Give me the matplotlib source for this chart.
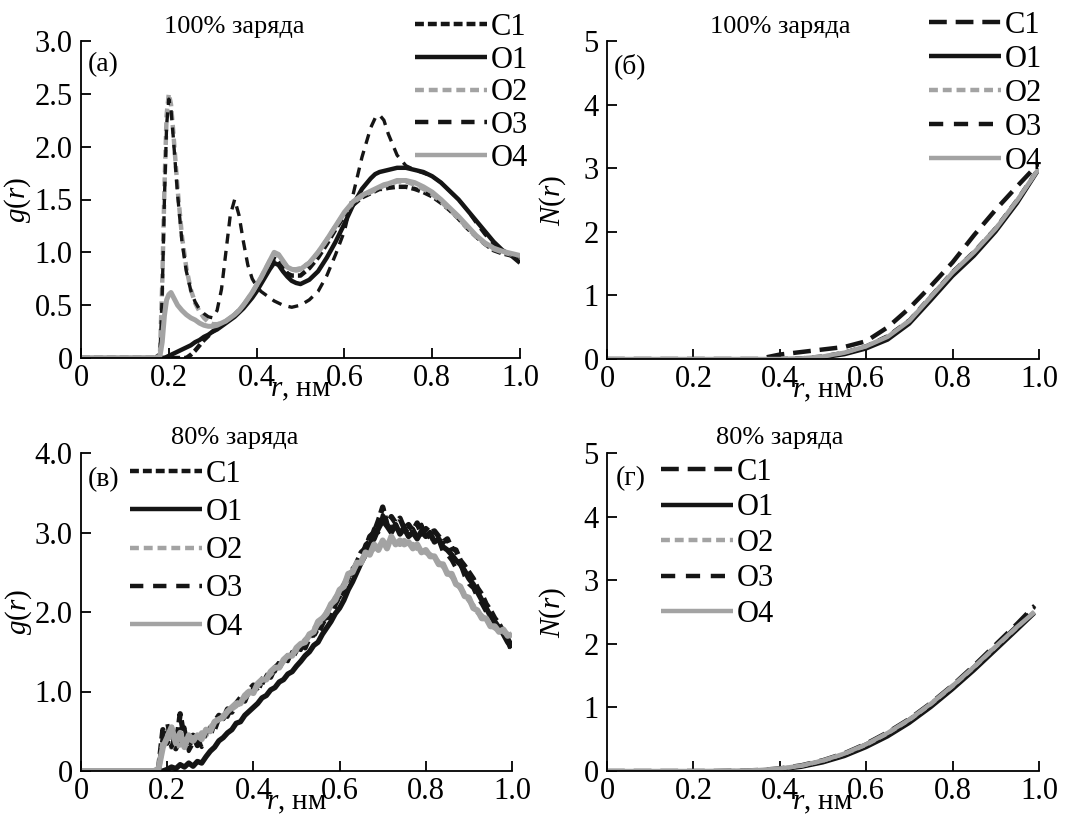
import matplotlib
matplotlib.use("Agg")
import matplotlib.pyplot as plt
import numpy as np

plt.rcParams["font.family"] = ["Liberation Serif", "DejaVu Serif"]
plt.rcParams["mathtext.fontset"] = "custom"
plt.rcParams["mathtext.rm"] = "Liberation Serif"
plt.rcParams["mathtext.it"] = "Liberation Serif:italic"
plt.rcParams["font.size"] = 21

SERIES = ["C1", "O1", "O2", "O3", "O4"]

# ---- panel (а): g(r), 100% заряда ----
R_A = [0.0, 0.17, 0.18, 0.185, 0.19, 0.195, 0.20, 0.205, 0.21,
       0.22, 0.23, 0.24, 0.25, 0.26, 0.27, 0.28, 0.29, 0.30,
       0.31, 0.32, 0.33, 0.34, 0.35, 0.36, 0.37, 0.38, 0.39,
       0.40, 0.41, 0.42, 0.43, 0.44, 0.45, 0.46, 0.47, 0.48,
       0.49, 0.50, 0.52, 0.54, 0.56, 0.58, 0.60, 0.62, 0.64,
       0.66, 0.67, 0.68, 0.69, 0.70, 0.72, 0.74, 0.76, 0.78,
       0.80, 0.82, 0.84, 0.86, 0.88, 0.90, 0.92, 0.94, 0.96,
       0.98, 1.00]
G_A_C1 = [0, 0, 0, 0, 0, 0, 0, 0, 0,
          0, 0, 0, 0.03, 0.07, 0.12, 0.17, 0.21, 0.25,
          0.28, 0.31, 0.34, 0.37, 0.41, 0.45, 0.50, 0.55, 0.61,
          0.67, 0.74, 0.81, 0.88, 0.94, 0.92, 0.86, 0.80, 0.78,
          0.78, 0.78, 0.85, 0.95, 1.08, 1.22, 1.35, 1.45, 1.52,
          1.56, 1.58, 1.60, 1.60, 1.61, 1.62, 1.62, 1.60, 1.57,
          1.53, 1.47, 1.40, 1.32, 1.23, 1.15, 1.08, 1.02, 0.99,
          0.97, 0.95]
G_A_O1 = [0, 0, 0, 0, 0, 0.01, 0.02, 0.03, 0.04,
          0.06, 0.08, 0.10, 0.12, 0.15, 0.17, 0.20, 0.22, 0.25,
          0.27, 0.30, 0.33, 0.36, 0.39, 0.43, 0.47, 0.52, 0.57,
          0.63, 0.70, 0.77, 0.84, 0.90, 0.88, 0.82, 0.77, 0.73,
          0.71, 0.70, 0.74, 0.82, 0.95, 1.10, 1.27, 1.45, 1.60,
          1.70, 1.74, 1.76, 1.77, 1.78, 1.80, 1.80, 1.78, 1.76,
          1.72, 1.66, 1.58, 1.50, 1.40, 1.30, 1.20, 1.10, 1.02,
          0.97, 0.90]
G_A_O2 = [0, 0, 0.05, 0.7, 1.6, 2.3, 2.5, 2.4, 2.15,
          1.60, 1.15, 0.85, 0.65, 0.52, 0.44, 0.38, 0.34, 0.32,
          0.32, 0.33, 0.35, 0.38, 0.41, 0.45, 0.50, 0.56, 0.62,
          0.69, 0.76, 0.84, 0.92, 0.99, 0.97, 0.91, 0.86, 0.84,
          0.84, 0.85, 0.90, 1.00, 1.12, 1.25, 1.37, 1.47, 1.53,
          1.57, 1.59, 1.61, 1.63, 1.64, 1.67, 1.67, 1.64, 1.60,
          1.55, 1.48, 1.40, 1.32, 1.23, 1.15, 1.08, 1.03, 1.00,
          0.98, 0.96]
G_A_O3 = [0, 0, 0.05, 0.6, 1.5, 2.2, 2.45, 2.35, 2.1,
          1.55, 1.10, 0.82, 0.64, 0.53, 0.46, 0.42, 0.39, 0.38,
          0.45, 0.65, 1.00, 1.35, 1.50, 1.35, 1.10, 0.88, 0.75,
          0.68, 0.63, 0.60, 0.57, 0.54, 0.52, 0.50, 0.49, 0.48,
          0.49, 0.50, 0.55, 0.63, 0.78, 0.98, 1.20, 1.55, 1.90,
          2.18, 2.27, 2.30, 2.25, 2.12, 1.92, 1.82, 1.78, 1.75,
          1.72, 1.66, 1.58, 1.50, 1.40, 1.28, 1.17, 1.08, 1.02,
          0.98, 0.93]
G_A_O4 = [0, 0, 0.02, 0.15, 0.4, 0.55, 0.6, 0.62, 0.58,
          0.50, 0.45, 0.41, 0.38, 0.36, 0.33, 0.31, 0.30, 0.30,
          0.31, 0.33, 0.35, 0.38, 0.41, 0.45, 0.50, 0.56, 0.62,
          0.69, 0.76, 0.84, 0.92, 1.00, 0.98, 0.92, 0.86, 0.84,
          0.83, 0.84, 0.90, 1.00, 1.12, 1.25, 1.38, 1.48, 1.54,
          1.58, 1.60, 1.62, 1.64, 1.65, 1.68, 1.68, 1.66, 1.62,
          1.57, 1.50, 1.42, 1.34, 1.25, 1.16, 1.09, 1.04, 1.01,
          0.99, 0.97]

# ---- panel (б): N(r), 100% заряда ----
R_B = [0, 0.1, 0.2, 0.3, 0.35, 0.4, 0.45, 0.5, 0.55, 0.6,
       0.65, 0.7, 0.75, 0.8, 0.85, 0.9, 0.95, 1.0]
N_B_C1 = [0, 0, 0, 0, 0.0, 0.07, 0.11, 0.15, 0.19, 0.28,
          0.50, 0.80, 1.15, 1.52, 1.95, 2.35, 2.72, 3.08]
N_B_O1 = [0, 0, 0, 0, 0, 0, 0, 0.02, 0.07, 0.16,
          0.30, 0.55, 0.92, 1.30, 1.62, 2.00, 2.45, 2.98]
N_B_O2 = [0, 0, 0, 0, 0, 0, 0.01, 0.04, 0.10, 0.20,
          0.36, 0.61, 0.99, 1.37, 1.69, 2.06, 2.50, 3.00]
N_B_O3 = [0, 0, 0, 0, 0, 0.01, 0.02, 0.05, 0.11, 0.21,
          0.37, 0.62, 1.00, 1.38, 1.70, 2.07, 2.52, 3.02]
N_B_O4 = [0, 0, 0, 0, 0, 0, 0.01, 0.04, 0.10, 0.20,
          0.35, 0.60, 0.98, 1.36, 1.68, 2.05, 2.50, 3.00]

# ---- panel (в): g(r), 80% заряда ----
R_C = [0.0,
       0.17, 0.18, 0.19, 0.20, 0.21, 0.22, 0.23, 0.24, 0.25, 0.26,
       0.27, 0.28, 0.29, 0.30, 0.31, 0.32, 0.33, 0.34, 0.35, 0.36,
       0.37, 0.38, 0.39, 0.40, 0.41, 0.42, 0.43, 0.44, 0.45, 0.46,
       0.47, 0.48, 0.49, 0.50, 0.51, 0.52, 0.53, 0.54, 0.55, 0.56,
       0.57, 0.58, 0.59, 0.60, 0.61, 0.62, 0.63, 0.64, 0.65, 0.66,
       0.67, 0.68, 0.69, 0.70, 0.71, 0.72, 0.73, 0.74, 0.75, 0.76,
       0.77, 0.78, 0.79, 0.80, 0.81, 0.82, 0.83, 0.84, 0.85, 0.86,
       0.87, 0.88, 0.89, 0.90, 0.91, 0.92, 0.93, 0.94, 0.95, 0.96,
       0.97, 0.98, 0.99, 1.00]
G_C_C1 = [0,
          0, 0.03, 0.52, 0.35, 0.58, 0.28, 0.72, 0.40, 0.30, 0.45,
          0.32, 0.40, 0.50, 0.45, 0.62, 0.70, 0.66, 0.78, 0.74, 0.85,
          0.92, 0.88, 1.02, 1.08, 1.00, 1.15, 1.22, 1.18, 1.30, 1.35,
          1.32, 1.45, 1.42, 1.52, 1.60, 1.55, 1.68, 1.75, 1.72, 1.85,
          1.95, 1.92, 2.10, 2.20, 2.28, 2.45, 2.50, 2.62, 2.75, 2.80,
          2.95, 3.00, 3.15, 3.32, 3.10, 3.20, 3.12, 3.18, 3.05, 3.10,
          3.02, 3.12, 2.98, 3.05, 3.00, 3.02, 2.95, 2.88, 2.92, 2.80,
          2.78, 2.65, 2.58, 2.50, 2.42, 2.30, 2.22, 2.10, 2.02, 1.92,
          1.85, 1.75, 1.65, 1.50]
G_C_O1 = [0,
          0, 0, 0, 0.02, 0.05, 0.03, 0.08, 0.05, 0.10, 0.06,
          0.12, 0.10, 0.18, 0.25, 0.30, 0.38, 0.42, 0.48, 0.52, 0.60,
          0.62, 0.70, 0.75, 0.80, 0.85, 0.92, 0.95, 1.02, 1.05, 1.12,
          1.15, 1.22, 1.25, 1.32, 1.38, 1.45, 1.50, 1.58, 1.62, 1.72,
          1.80, 1.88, 1.98, 2.05, 2.15, 2.28, 2.38, 2.50, 2.62, 2.72,
          2.85, 2.92, 3.05, 3.15, 3.08, 3.00, 3.10, 2.98, 3.05, 2.95,
          3.00, 2.92, 3.02, 2.95, 3.00, 2.88, 2.92, 2.82, 2.78, 2.72,
          2.65, 2.60, 2.52, 2.42, 2.35, 2.25, 2.15, 2.05, 1.95, 1.88,
          1.80, 1.72, 1.62, 1.55]
G_C_O2 = [0,
          0, 0.02, 0.35, 0.50, 0.30, 0.45, 0.28, 0.40, 0.32, 0.42,
          0.38, 0.48, 0.45, 0.55, 0.60, 0.58, 0.70, 0.72, 0.78, 0.82,
          0.88, 0.92, 0.98, 1.02, 1.08, 1.12, 1.18, 1.22, 1.28, 1.32,
          1.38, 1.42, 1.48, 1.52, 1.58, 1.65, 1.70, 1.78, 1.85, 1.90,
          2.00, 2.08, 2.18, 2.25, 2.35, 2.45, 2.52, 2.60, 2.65, 2.72,
          2.75, 2.80, 2.82, 2.88, 2.85, 2.92, 2.88, 2.85, 2.90, 2.82,
          2.85, 2.80, 2.78, 2.75, 2.72, 2.68, 2.62, 2.58, 2.50, 2.45,
          2.38, 2.30, 2.22, 2.15, 2.08, 2.00, 1.95, 1.90, 1.85, 1.80,
          1.78, 1.75, 1.72, 1.70]
G_C_O3 = [0,
          0, 0.05, 0.45, 0.60, 0.30, 0.50, 0.38, 0.55, 0.25, 0.35,
          0.42, 0.30, 0.48, 0.55, 0.50, 0.65, 0.72, 0.68, 0.80, 0.78,
          0.88, 0.95, 0.92, 1.05, 1.12, 1.08, 1.20, 1.28, 1.25, 1.38,
          1.40, 1.38, 1.50, 1.55, 1.52, 1.65, 1.72, 1.70, 1.82, 1.90,
          1.92, 2.05, 2.15, 2.18, 2.35, 2.40, 2.55, 2.60, 2.70, 2.85,
          2.90, 3.05, 3.00, 3.22, 3.15, 3.05, 3.10, 3.00, 3.08, 2.98,
          3.05, 2.95, 3.10, 2.90, 2.98, 2.85, 2.90, 2.75, 2.72, 2.65,
          2.55, 2.60, 2.45, 2.35, 2.30, 2.18, 2.10, 2.00, 1.95, 1.85,
          1.80, 1.72, 1.68, 1.58]
G_C_O4 = [0,
          0, 0.03, 0.30, 0.42, 0.55, 0.35, 0.48, 0.30, 0.45, 0.38,
          0.45, 0.40, 0.52, 0.50, 0.62, 0.65, 0.68, 0.75, 0.80, 0.85,
          0.85, 0.95, 1.00, 0.98, 1.10, 1.15, 1.15, 1.25, 1.30, 1.30,
          1.40, 1.45, 1.45, 1.55, 1.60, 1.62, 1.72, 1.75, 1.88, 1.92,
          1.98, 2.10, 2.15, 2.28, 2.32, 2.48, 2.50, 2.62, 2.62, 2.75,
          2.72, 2.85, 2.78, 2.90, 2.80, 2.95, 2.85, 2.90, 2.85, 2.88,
          2.80, 2.85, 2.75, 2.78, 2.70, 2.70, 2.60, 2.60, 2.48, 2.48,
          2.35, 2.32, 2.20, 2.18, 2.05, 2.02, 1.92, 1.92, 1.82, 1.82,
          1.75, 1.78, 1.70, 1.72]

# ---- panel (г): N(r), 80% заряда ----
R_D = [0, 0.2, 0.25, 0.3, 0.35, 0.4, 0.45, 0.5, 0.55, 0.6,
       0.65, 0.7, 0.75, 0.8, 0.85, 0.9, 0.95, 0.99]
N_D_C1 = [0, 0, 0, 0.005, 0.015, 0.04, 0.09, 0.17, 0.28, 0.43,
          0.61, 0.82, 1.07, 1.35, 1.66, 1.99, 2.32, 2.60]
N_D_O1 = [0, 0, 0, 0, 0.005, 0.02, 0.06, 0.13, 0.23, 0.37,
          0.54, 0.75, 1.00, 1.28, 1.58, 1.90, 2.22, 2.48]
N_D_O2 = [0, 0, 0, 0.005, 0.012, 0.035, 0.08, 0.16, 0.27, 0.41,
          0.59, 0.80, 1.05, 1.33, 1.63, 1.95, 2.26, 2.52]
N_D_O3 = [0, 0, 0, 0.006, 0.015, 0.04, 0.09, 0.17, 0.28, 0.43,
          0.61, 0.82, 1.07, 1.35, 1.65, 1.98, 2.30, 2.57]
N_D_O4 = [0, 0, 0.002, 0.006, 0.014, 0.038, 0.085, 0.165, 0.275, 0.42,
          0.60, 0.81, 1.06, 1.34, 1.64, 1.96, 2.27, 2.50]

X_TICKS = [0, 0.2, 0.4, 0.6, 0.8, 1.0]
X_TICK_LABELS = ["0", "0.2", "0.4", "0.6", "0.8", "1.0"]
G_A_TICKS = [0, 0.5, 1.0, 1.5, 2.0, 2.5, 3.0]
G_A_TICK_LABELS = ["0", "0.5", "1.0", "1.5", "2.0", "2.5", "3.0"]
G_C_TICKS = [0, 1.0, 2.0, 3.0, 4.0]
G_C_TICK_LABELS = ["0", "1.0", "2.0", "3.0", "4.0"]
N_TICKS = [0, 1, 2, 3, 4, 5]
N_TICK_LABELS = ["0", "1", "2", "3", "4", "5"]

BLACK = "#151515"
GRAY = "#a3a3a3"

STYLE_G = {
    "C1": dict(color=BLACK, lw=3.2, dashes=(2.0, 0.9)),
    "O1": dict(color=BLACK, lw=3.2, linestyle="-"),
    "O2": dict(color=GRAY, lw=3.2, dashes=(2.0, 1.1)),
    "O3": dict(color=BLACK, lw=2.4, dashes=(3.0, 2.2)),
    "O4": dict(color=GRAY, lw=3.6, linestyle="-"),
}
STYLE_N = {
    "C1": dict(color=BLACK, lw=3.2, dashes=(4.0, 2.0)),
    "O1": dict(color=BLACK, lw=2.6, linestyle="-"),
    "O2": dict(color=GRAY, lw=2.8, dashes=(2.0, 1.1)),
    "O3": dict(color=BLACK, lw=2.2, dashes=(3.2, 2.4)),
    "O4": dict(color=GRAY, lw=3.2, linestyle="-"),
}

W, H = 1068, 823
fig = plt.figure(figsize=(W / 100, H / 100), dpi=100)


def px_axes(left, top, right, bottom):
    return fig.add_axes([left / W, 1 - bottom / H, (right - left) / W, (bottom - top) / H])


def style_axes(ax, yticks, ylabels, ylim, ylab, ylab_x):
    for side in ("top", "right"):
        ax.spines[side].set_visible(False)
    for side in ("left", "bottom"):
        ax.spines[side].set_linewidth(1.3)
    ax.set_xlim(0, 1.0)
    ax.set_ylim(*ylim)
    ax.set_xticks(X_TICKS, X_TICK_LABELS)
    ax.set_yticks(yticks, ylabels)
    ax.tick_params(direction="in", length=7, width=1.3, labelsize=22)
    ax.tick_params(axis="x", pad=4)
    ax.tick_params(axis="y", pad=6)
    ax.set_xlabel(r"$\mathit{r}$, нм", fontsize=21)
    ax.xaxis.set_label_coords(0.5, -0.06)
    ax.set_ylabel(ylab, fontsize=21)
    ax.yaxis.set_label_coords(ylab_x, 0.5)
    ax.patch.set_alpha(0)


def draw(ax, r, curves, styles, lw_scale=1.0):
    for name, vals in zip(SERIES, curves):
        st = dict(styles[name])
        st["lw"] = st["lw"] * lw_scale
        ax.plot(r, vals, label=name, solid_capstyle="butt", **st)


def add_legend(ax, x, y, spacing):
    leg = ax.legend(loc="upper left", bbox_to_anchor=(x / W, 1 - y / H),
                    bbox_transform=fig.transFigure, frameon=False, fontsize=22,
                    handlelength=2.35, handletextpad=0.12, labelspacing=spacing,
                    borderpad=0, borderaxespad=0)
    for line in leg.get_lines():
        line.set_linewidth(3.2)


# (а)
ax_a = px_axes(81, 41, 520, 358)
draw(ax_a, R_A, [G_A_C1, G_A_O1, G_A_O2, G_A_O3, G_A_O4], STYLE_G)
style_axes(ax_a, G_A_TICKS, G_A_TICK_LABELS, (0, 3.0), r"$\mathit{g}(\mathit{r})$", -0.11)
ax_a.text(0.35, 1.045, "100% заряда", transform=ax_a.transAxes, ha="center", va="center", fontsize=19)
ax_a.text(0.015, 0.925, "(а)", transform=ax_a.transAxes, ha="left", va="center", fontsize=20)
add_legend(ax_a, 415, 13, 0.12)

# (б)
ax_b = px_axes(607, 41, 1039, 359)
draw(ax_b, R_B, [N_B_C1, N_B_O1, N_B_O2, N_B_O3, N_B_O4], STYLE_N)
style_axes(ax_b, N_TICKS, N_TICK_LABELS, (0, 5), r"$\mathit{N}(\mathit{r})$", -0.09)
ax_b.text(0.40, 1.045, "100% заряда", transform=ax_b.transAxes, ha="center", va="center", fontsize=19)
ax_b.text(0.015, 0.92, "(б)", transform=ax_b.transAxes, ha="left", va="center", fontsize=20)
add_legend(ax_b, 929, 11, 0.16)

# (в)
ax_c = px_axes(81, 453, 512, 771)
draw(ax_c, R_C, [G_C_C1, G_C_O1, G_C_O2, G_C_O3, G_C_O4], STYLE_G, lw_scale=1.2)
style_axes(ax_c, G_C_TICKS, G_C_TICK_LABELS, (0, 4.0), r"$\mathit{g}(\mathit{r})$", -0.11)
ax_c.text(0.357, 1.047, "80% заряда", transform=ax_c.transAxes, ha="center", va="center", fontsize=19)
ax_c.text(0.015, 0.915, "(в)", transform=ax_c.transAxes, ha="left", va="center", fontsize=20)
add_legend(ax_c, 130, 460, 0.30)

# (г)
ax_d = px_axes(607, 453, 1039, 771)
draw(ax_d, R_D, [N_D_C1, N_D_O1, N_D_O2, N_D_O3, N_D_O4], STYLE_N)
style_axes(ax_d, N_TICKS, N_TICK_LABELS, (0, 5), r"$\mathit{N}(\mathit{r})$", -0.09)
ax_d.text(0.40, 1.047, "80% заряда", transform=ax_d.transAxes, ha="center", va="center", fontsize=19)
ax_d.text(0.02, 0.92, "(г)", transform=ax_d.transAxes, ha="left", va="center", fontsize=20)
add_legend(ax_d, 661, 458, 0.21)

fig.savefig("out.png", dpi=100)
